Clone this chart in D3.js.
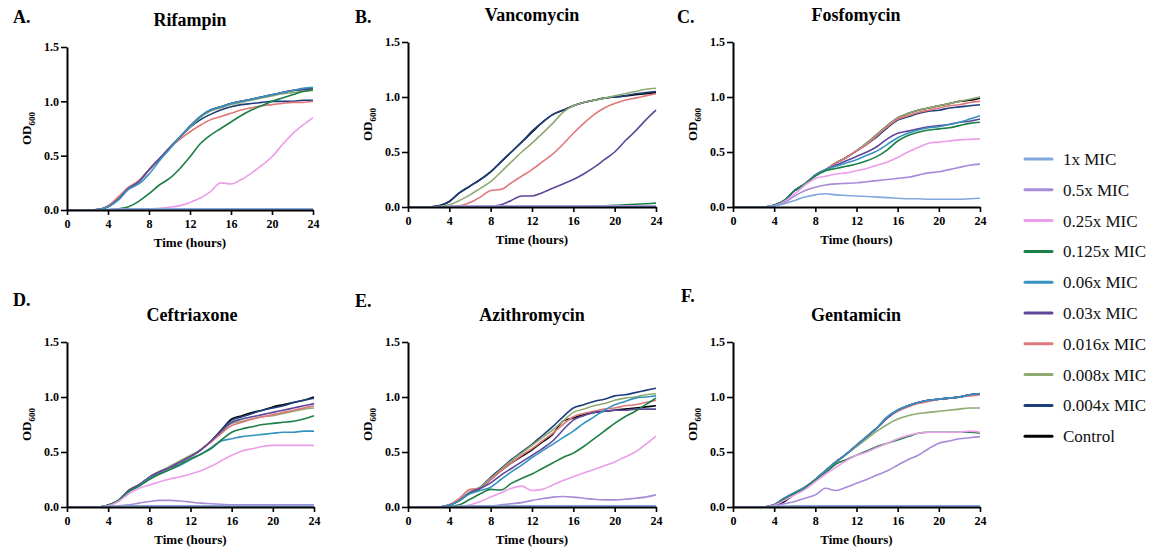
<!DOCTYPE html>
<html>
<head>
<meta charset="utf-8">
<script src="https://cdn.jsdelivr.net/npm/d3@7"></script>
<style>
  html, body { margin: 0; padding: 0; background: #fff; }
  svg { display: block; font-family: "Liberation Serif", "Times New Roman", serif; }
</style>
</head>
<body>
<svg id="chart" width="1156" height="556"></svg>
<script>
// ---------------- DATA ----------------
const hours = [0,1,2,3,4,5,6,7,8,9,10,11,12,13,14,15,16,17,18,19,20,21,22,23,24];
const xTicks = [0,4,8,12,16,20,24];
const yTicks = [0,0.5,1.0,1.5];
const seriesNames = ["1x MIC","0.5x MIC","0.25x MIC","0.125x MIC","0.06x MIC","0.03x MIC","0.016x MIC","0.008x MIC","0.004x MIC","Control"];
const seriesColors = ["#82a6de","#a98bd9","#ec9de9","#1b7f46","#3693c0","#5e469b","#e0777b","#8fab73","#1c3f7c","#000000"];
const panelTitles = ["Rifampin","Vancomycin","Fosfomycin","Ceftriaxone","Azithromycin","Gentamicin"];
const panelLetters = ["A.","B.","C.","D.","E.","F."];

// OD600 values per hour, series order = seriesNames
const rifampin = [
  [0,0,0,0,0.005,0.008,0.01,0.01,0.01,0.01,0.01,0.01,0.01,0.01,0.01,0.01,0.01,0.01,0.01,0.01,0.01,0.01,0.01,0.01,0.01],
  [0,0,0,0,0.005,0.008,0.01,0.012,0.012,0.012,0.012,0.012,0.012,0.012,0.012,0.012,0.012,0.012,0.012,0.012,0.012,0.012,0.012,0.012,0.012],
  [0,0,0,0,0,0,0,0.005,0.01,0.015,0.025,0.04,0.07,0.11,0.17,0.25,0.24,0.28,0.34,0.41,0.49,0.6,0.7,0.78,0.85],
  [0,0,0,0,0,0.01,0.03,0.08,0.15,0.23,0.29,0.38,0.49,0.61,0.69,0.75,0.81,0.87,0.92,0.96,1.0,1.03,1.06,1.09,1.11],
  [0,0,0,0.005,0.03,0.09,0.19,0.24,0.33,0.45,0.56,0.67,0.77,0.86,0.92,0.95,0.98,1.0,1.02,1.04,1.06,1.08,1.1,1.12,1.13],
  [0,0,0,0.005,0.03,0.1,0.2,0.26,0.37,0.47,0.57,0.67,0.77,0.86,0.92,0.95,0.98,1.0,1.02,1.04,1.06,1.08,1.1,1.11,1.12],
  [0,0,0,0.005,0.04,0.12,0.21,0.27,0.37,0.47,0.57,0.65,0.72,0.78,0.83,0.86,0.89,0.92,0.94,0.96,0.97,0.98,0.99,0.99,1.0],
  [0,0,0,0.005,0.03,0.1,0.2,0.26,0.37,0.47,0.57,0.67,0.76,0.85,0.91,0.94,0.97,0.99,1.01,1.03,1.05,1.07,1.08,1.09,1.1],
  [0,0,0,0.005,0.03,0.1,0.2,0.26,0.37,0.47,0.57,0.67,0.76,0.83,0.88,0.92,0.95,0.97,0.98,0.99,1.0,1.0,1.0,1.01,1.01],
  [0,0,0,0.005,0.03,0.1,0.2,0.26,0.37,0.47,0.57,0.67,0.77,0.86,0.92,0.95,0.98,1.0,1.02,1.04,1.06,1.08,1.1,1.11,1.12]
];
const vancomycin = [
  [0,0,0,0,0.003,0.005,0.005,0.005,0.005,0.005,0.005,0.005,0.005,0.005,0.005,0.005,0.005,0.005,0.005,0.005,0.005,0.005,0.005,0.005,0.005],
  [0,0,0,0,0.003,0.005,0.006,0.006,0.006,0.006,0.006,0.006,0.006,0.006,0.006,0.006,0.006,0.006,0.006,0.006,0.006,0.006,0.006,0.006,0.006],
  [0,0,0,0,0.003,0.005,0.008,0.008,0.008,0.008,0.008,0.008,0.008,0.008,0.008,0.008,0.008,0.008,0.008,0.008,0.008,0.008,0.008,0.008,0.008],
  [0,0,0,0,0.002,0.003,0.003,0.003,0.003,0.003,0.003,0.003,0.003,0.003,0.003,0.003,0.004,0.006,0.01,0.012,0.015,0.02,0.025,0.03,0.035],
  [0,0,0,0,0.002,0.003,0.003,0.003,0.003,0.003,0.003,0.003,0.003,0.003,0.003,0.003,0.003,0.003,0.003,0.003,0.003,0.003,0.003,0.003,0.003],
  [0,0,0,0,0,0,0,0,0.005,0.02,0.06,0.1,0.1,0.13,0.17,0.21,0.25,0.3,0.36,0.43,0.5,0.6,0.69,0.79,0.88],
  [0,0,0,0,0.005,0.01,0.04,0.09,0.15,0.16,0.22,0.28,0.34,0.41,0.48,0.57,0.67,0.76,0.84,0.9,0.94,0.97,0.99,1.01,1.03],
  [0,0,0,0.005,0.02,0.06,0.11,0.17,0.23,0.32,0.41,0.5,0.58,0.67,0.76,0.86,0.92,0.95,0.97,0.99,1.01,1.03,1.05,1.07,1.08],
  [0,0,0,0.01,0.05,0.13,0.19,0.25,0.32,0.41,0.5,0.59,0.69,0.77,0.84,0.88,0.92,0.95,0.97,0.99,1.0,1.01,1.03,1.04,1.05],
  [0,0,0,0.01,0.05,0.13,0.19,0.25,0.32,0.41,0.5,0.59,0.68,0.77,0.84,0.88,0.92,0.95,0.97,0.99,1.0,1.01,1.02,1.03,1.04]
];
const fosfomycin = [
  [0,0,0,0,0.01,0.03,0.06,0.09,0.11,0.12,0.11,0.105,0.1,0.095,0.09,0.085,0.08,0.075,0.075,0.07,0.07,0.07,0.07,0.075,0.08],
  [0,0,0,0,0.01,0.04,0.1,0.15,0.18,0.2,0.21,0.215,0.22,0.23,0.24,0.25,0.26,0.27,0.29,0.31,0.32,0.34,0.36,0.38,0.39],
  [0,0,0,0,0.01,0.05,0.12,0.2,0.26,0.28,0.3,0.31,0.33,0.35,0.38,0.41,0.45,0.5,0.54,0.58,0.59,0.6,0.61,0.615,0.62],
  [0,0,0,0,0.015,0.06,0.15,0.21,0.28,0.33,0.35,0.37,0.39,0.42,0.46,0.52,0.6,0.65,0.68,0.7,0.71,0.72,0.74,0.76,0.77],
  [0,0,0,0,0.015,0.06,0.15,0.21,0.29,0.34,0.37,0.4,0.43,0.47,0.51,0.57,0.63,0.67,0.7,0.72,0.73,0.75,0.77,0.8,0.83],
  [0,0,0,0,0.015,0.06,0.15,0.21,0.29,0.34,0.38,0.42,0.46,0.5,0.55,0.62,0.67,0.69,0.71,0.73,0.74,0.75,0.77,0.78,0.8],
  [0,0,0,0,0.015,0.06,0.15,0.21,0.29,0.34,0.4,0.45,0.51,0.57,0.65,0.73,0.8,0.83,0.86,0.88,0.9,0.92,0.93,0.95,0.96],
  [0,0,0,0,0.015,0.06,0.15,0.21,0.29,0.34,0.4,0.45,0.51,0.58,0.66,0.74,0.81,0.85,0.88,0.9,0.92,0.94,0.96,0.98,1.0],
  [0,0,0,0,0.015,0.06,0.15,0.21,0.29,0.34,0.4,0.45,0.51,0.57,0.64,0.72,0.79,0.82,0.85,0.87,0.88,0.9,0.91,0.92,0.93],
  [0,0,0,0,0.015,0.06,0.15,0.21,0.29,0.34,0.4,0.45,0.51,0.58,0.66,0.74,0.81,0.85,0.88,0.9,0.92,0.94,0.96,0.97,0.99]
];
const ceftriaxone = [
  [0,0,0,0,0.005,0.008,0.01,0.01,0.01,0.01,0.01,0.01,0.01,0.01,0.01,0.01,0.01,0.01,0.01,0.01,0.01,0.01,0.01,0.01,0.01],
  [0,0,0,0,0.005,0.01,0.02,0.035,0.05,0.06,0.06,0.055,0.045,0.035,0.03,0.025,0.02,0.02,0.02,0.02,0.02,0.02,0.02,0.02,0.02],
  [0,0,0,0,0.01,0.05,0.12,0.17,0.2,0.23,0.255,0.275,0.3,0.33,0.37,0.42,0.47,0.51,0.53,0.55,0.56,0.56,0.56,0.56,0.56],
  [0,0,0,0,0.015,0.06,0.14,0.19,0.25,0.3,0.34,0.39,0.44,0.48,0.53,0.61,0.68,0.71,0.73,0.75,0.76,0.77,0.78,0.8,0.83],
  [0,0,0,0,0.015,0.06,0.14,0.19,0.26,0.3,0.34,0.38,0.43,0.48,0.54,0.6,0.62,0.64,0.65,0.66,0.67,0.68,0.68,0.69,0.69],
  [0,0,0,0,0.015,0.06,0.15,0.2,0.27,0.32,0.36,0.41,0.46,0.52,0.6,0.69,0.77,0.8,0.82,0.84,0.86,0.88,0.9,0.92,0.94],
  [0,0,0,0,0.015,0.06,0.15,0.2,0.27,0.32,0.36,0.41,0.46,0.52,0.59,0.67,0.74,0.77,0.8,0.82,0.84,0.86,0.88,0.9,0.92],
  [0,0,0,0,0.015,0.06,0.15,0.2,0.27,0.32,0.37,0.42,0.47,0.52,0.6,0.68,0.76,0.78,0.8,0.82,0.83,0.85,0.87,0.89,0.9],
  [0,0,0,0,0.015,0.06,0.15,0.2,0.27,0.32,0.36,0.41,0.46,0.52,0.6,0.7,0.79,0.82,0.85,0.88,0.9,0.92,0.95,0.97,0.99],
  [0,0,0,0,0.015,0.06,0.15,0.2,0.27,0.32,0.36,0.41,0.46,0.52,0.6,0.7,0.8,0.83,0.86,0.88,0.91,0.93,0.95,0.97,1.0]
];
const azithromycin = [
  [0,0,0,0,0.005,0.008,0.01,0.01,0.01,0.01,0.01,0.01,0.01,0.01,0.01,0.01,0.01,0.01,0.01,0.01,0.01,0.01,0.01,0.01,0.01],
  [0,0,0,0,0,0,0,0.005,0.01,0.02,0.03,0.04,0.06,0.075,0.09,0.095,0.09,0.08,0.07,0.065,0.065,0.07,0.08,0.09,0.11],
  [0,0,0,0,0,0.005,0.02,0.05,0.09,0.13,0.17,0.19,0.15,0.16,0.2,0.24,0.275,0.31,0.34,0.375,0.41,0.455,0.5,0.57,0.645],
  [0,0,0,0,0.005,0.02,0.07,0.12,0.16,0.155,0.215,0.26,0.3,0.35,0.4,0.45,0.49,0.55,0.62,0.69,0.76,0.82,0.87,0.93,0.99],
  [0,0,0,0,0.015,0.06,0.12,0.15,0.18,0.25,0.32,0.38,0.45,0.51,0.57,0.63,0.69,0.76,0.82,0.88,0.93,0.96,0.99,1.0,1.01],
  [0,0,0,0,0.015,0.06,0.13,0.17,0.22,0.29,0.35,0.41,0.47,0.53,0.6,0.7,0.79,0.83,0.86,0.87,0.88,0.88,0.89,0.89,0.89],
  [0,0,0,0,0.02,0.08,0.16,0.17,0.25,0.33,0.4,0.47,0.53,0.6,0.67,0.75,0.82,0.85,0.87,0.89,0.9,0.92,0.93,0.95,0.97],
  [0,0,0,0,0.015,0.07,0.14,0.18,0.26,0.34,0.42,0.49,0.56,0.63,0.7,0.78,0.86,0.89,0.92,0.94,0.97,0.99,1.0,1.02,1.03],
  [0,0,0,0,0.02,0.07,0.13,0.18,0.27,0.35,0.43,0.5,0.57,0.65,0.73,0.82,0.9,0.93,0.96,0.98,1.01,1.02,1.04,1.06,1.08],
  [0,0,0,0,0.015,0.06,0.13,0.17,0.25,0.33,0.4,0.46,0.52,0.59,0.66,0.78,0.81,0.84,0.86,0.87,0.88,0.89,0.9,0.91,0.92]
];
const gentamicin = [
  [0,0,0,0,0.005,0.008,0.01,0.01,0.01,0.01,0.01,0.01,0.01,0.01,0.01,0.01,0.01,0.01,0.01,0.01,0.01,0.01,0.01,0.01,0.01],
  [0,0,0,0,0.01,0.03,0.05,0.08,0.11,0.17,0.15,0.18,0.215,0.25,0.29,0.33,0.38,0.43,0.47,0.53,0.58,0.6,0.62,0.63,0.64],
  [0,0,0,0,0.015,0.06,0.11,0.16,0.23,0.3,0.36,0.42,0.47,0.5,0.54,0.58,0.62,0.65,0.67,0.68,0.68,0.68,0.68,0.69,0.68],
  [0,0,0,0,0.015,0.07,0.12,0.17,0.24,0.31,0.39,0.43,0.47,0.51,0.55,0.58,0.61,0.64,0.67,0.68,0.68,0.68,0.68,0.68,0.67],
  [0,0,0,0,0.02,0.08,0.13,0.18,0.25,0.33,0.41,0.48,0.56,0.64,0.72,0.82,0.88,0.92,0.95,0.97,0.98,0.99,1.0,1.02,1.03],
  [0,0,0,0,0.02,0.08,0.13,0.18,0.25,0.33,0.41,0.48,0.56,0.64,0.72,0.81,0.88,0.92,0.95,0.97,0.98,0.99,1.0,1.02,1.03],
  [0,0,0,0,0.02,0.08,0.13,0.18,0.25,0.33,0.41,0.48,0.56,0.64,0.72,0.81,0.87,0.91,0.94,0.96,0.98,0.99,1.0,1.01,1.02],
  [0,0,0,0,0.02,0.08,0.13,0.18,0.25,0.33,0.41,0.48,0.55,0.62,0.69,0.75,0.8,0.83,0.85,0.86,0.87,0.88,0.89,0.9,0.9],
  [0,0,0,0,0.02,0.08,0.13,0.18,0.25,0.33,0.41,0.48,0.56,0.64,0.72,0.82,0.88,0.92,0.95,0.97,0.98,0.99,1.0,1.02,1.03],
  [0,0,0,0,0.01,0.05,0.12,0.18,0.25,0.33,0.41,0.48,0.56,0.64,0.72,0.81,0.88,0.92,0.95,0.97,0.98,0.99,1.0,1.02,1.03]
];
const panelData = [rifampin, vancomycin, fosfomycin, ceftriaxone, azithromycin, gentamicin];

// ---------------- LAYOUT ----------------
const panels = [
  {left:67,  right:313, top:47,  bottom:210, titleX:190, titleY:26,  letterX:13,  letterY:23},
  {left:408, right:656, top:42,  bottom:207, titleX:532, titleY:21,  letterX:355, letterY:23},
  {left:733, right:980, top:42,  bottom:207, titleX:856, titleY:21,  letterX:677, letterY:23},
  {left:67,  right:314, top:342, bottom:507, titleX:192, titleY:321, letterX:13,  letterY:306},
  {left:408, right:656, top:342, bottom:507, titleX:532, titleY:321, letterX:355, letterY:307},
  {left:733, right:980, top:342, bottom:507, titleX:856, titleY:321, letterX:681, letterY:302}
];

const svg = d3.select("#chart");

panels.forEach((p, i) => {
  const g = svg.append("g");
  const x = d3.scaleLinear().domain([0,24]).range([p.left, p.right]);
  const y = d3.scaleLinear().domain([0,1.5]).range([p.bottom, p.top]);

  // series (drawn in reverse so 1x MIC is on top)
  const line = d3.line()
    .x((d, k) => x(hours[k]))
    .y(d => y(d))
    .curve(d3.curveMonotoneX);
  const data = panelData[i];
  for (let s = data.length - 1; s >= 0; s--) {
    g.append("path")
      .datum(data[s])
      .attr("fill", "none")
      .attr("stroke", seriesColors[s])
      .attr("stroke-width", 1.6)
      .attr("stroke-linejoin", "round")
      .attr("d", line);
  }

  // axes
  const xAxis = d3.axisBottom(x).tickValues(xTicks).tickSize(5).tickSizeOuter(0).tickPadding(4);
  const yAxis = d3.axisLeft(y).tickValues(yTicks).tickSize(6).tickSizeOuter(0).tickPadding(2)
    .tickFormat(d3.format(".1f"));
  const gx = g.append("g").attr("transform", `translate(0,${p.bottom})`).call(xAxis);
  const gy = g.append("g").attr("transform", `translate(${p.left},0)`).call(yAxis);
  [gx, gy].forEach(ax => {
    ax.select(".domain").attr("stroke", "#000").attr("stroke-width", 2);
    ax.selectAll(".tick line").attr("stroke", "#000").attr("stroke-width", 1.6);
    ax.selectAll(".tick text")
      .attr("fill", "#000")
      .style("font-family", '"Liberation Serif", "Times New Roman", serif')
      .style("font-weight", "bold")
      .style("font-size", "12px");
  });

  // x axis title
  g.append("text")
    .attr("x", (p.left + p.right) / 2)
    .attr("y", p.bottom + 37)
    .attr("text-anchor", "middle")
    .style("font-weight", "bold")
    .style("font-size", "13px")
    .text("Time (hours)");

  // y axis title OD600
  const yt = g.append("text")
    .attr("transform", `translate(${p.left - 36},${(p.top + p.bottom) / 2}) rotate(-90)`)
    .attr("text-anchor", "middle")
    .style("font-weight", "bold")
    .style("font-size", "13px");
  yt.append("tspan").text("OD");
  yt.append("tspan").attr("dy", 4).style("font-size", "9px").text("600");

  // panel title
  g.append("text")
    .attr("x", p.titleX)
    .attr("y", p.titleY)
    .attr("text-anchor", "middle")
    .style("font-weight", "bold")
    .style("font-size", "18px")
    .text(panelTitles[i]);

  // panel letter
  g.append("text")
    .attr("x", p.letterX)
    .attr("y", p.letterY)
    .style("font-weight", "bold")
    .style("font-size", "18px")
    .text(panelLetters[i]);
});

// ---------------- LEGEND ----------------
const legend = svg.append("g");
seriesNames.forEach((name, s) => {
  const yy = 159 + s * 30.8;
  legend.append("line")
    .attr("x1", 1025).attr("x2", 1052)
    .attr("y1", yy).attr("y2", yy)
    .attr("stroke", seriesColors[s])
    .attr("stroke-width", 3)
    .attr("stroke-linecap", "round");
  legend.append("text")
    .attr("x", 1063)
    .attr("y", yy + 6)
    .style("font-size", "17px")
    .attr("fill", "#111")
    .text(name);
});
</script>
</body>
</html>
